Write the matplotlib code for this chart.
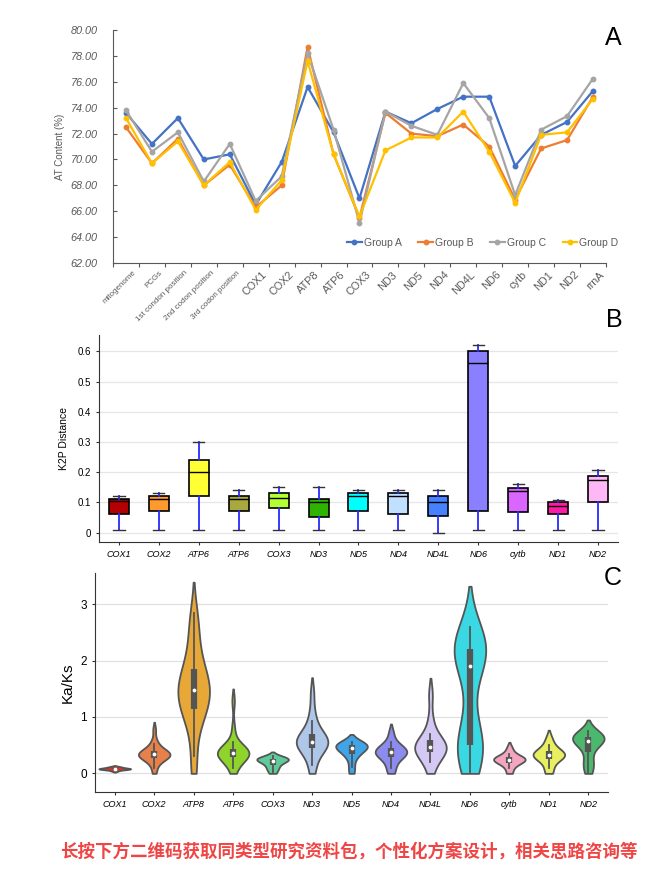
import numpy as np
import matplotlib

matplotlib.use("Agg")
import matplotlib.pyplot as plt

plt.rcParams["font.family"] = ["Liberation Sans", "DejaVu Sans"]

# ---------------- panel A: AT content ----------------
at_categories = [
    "mitogenome", "PCGs", "1st condon position", "2nd codon position",
    "3rd codon position", "COX1", "COX2", "ATP8", "ATP6", "COX3", "ND3",
    "ND5", "ND4", "ND4L", "ND6", "cytb", "ND1", "ND2", "rrnA",
]
group_a = [73.6, 71.2, 73.2, 70.0, 70.4, 66.5, 69.8, 75.6, 72.1, 67.0,
           73.7, 72.8, 73.9, 74.85, 74.85, 69.5, 71.9, 72.9, 75.3]
group_b = [72.5, 69.7, 71.6, 68.0, 69.6, 66.3, 68.0, 78.7, 70.4, 65.5,
           73.6, 72.0, 71.8, 72.7, 71.0, 66.9, 70.85, 71.5, 74.85]
group_c = [73.8, 70.6, 72.1, 68.3, 71.2, 66.8, 68.7, 78.2, 72.3, 65.1,
           73.7, 72.6, 71.9, 75.9, 73.2, 67.25, 72.3, 73.35, 76.25]
group_d = [73.2, 69.7, 71.4, 68.0, 69.8, 66.1, 68.4, 77.6, 70.4, 65.6,
           70.7, 71.7, 71.7, 73.7, 70.6, 66.65, 71.9, 72.1, 74.7]
group_names = ["Group A", "Group B", "Group C", "Group D"]
group_colors = ["#4472C4", "#ED7D31", "#A5A5A5", "#FFC000"]

# ---------------- panel B: K2P distance ----------------
k2p_genes = ["COX1", "COX2", "ATP6", "ATP6", "COX3", "ND3", "ND5", "ND4",
             "ND4L", "ND6", "cytb", "ND1", "ND2"]
k2p_low = [0.01, 0.01, 0.01, 0.01, 0.01, 0.01, 0.01, 0.01, 0.0, 0.01, 0.01, 0.01, 0.01]
k2p_q1 = [0.062, 0.07, 0.12, 0.072, 0.08, 0.05, 0.072, 0.06, 0.054, 0.072, 0.068, 0.06, 0.10]
k2p_med = [0.106, 0.11, 0.20, 0.11, 0.114, 0.10, 0.12, 0.12, 0.10, 0.561, 0.139, 0.089, 0.174]
k2p_q3 = [0.11, 0.12, 0.24, 0.12, 0.13, 0.11, 0.13, 0.13, 0.12, 0.60, 0.149, 0.10, 0.187]
k2p_high = [0.12, 0.13, 0.30, 0.14, 0.15, 0.15, 0.14, 0.14, 0.14, 0.62, 0.16, 0.109, 0.208]
k2p_colors = ["#B30000", "#FF9A2E", "#FFFF33", "#A8A83E", "#B3FF33", "#2DB300",
              "#00FFFF", "#C0E0FF", "#4682FF", "#8A80FF", "#D966FF", "#FF1AA6", "#FFB8F5"]

# ---------------- panel C: Ka/Ks ----------------
kaks_genes = ["COX1", "COX2", "ATP8", "ATP6", "COX3", "ND3", "ND5", "ND4",
              "ND4L", "ND6", "cytb", "ND1", "ND2"]
kaks_cox1 = [0.04, 0.06, 0.07, 0.07, 0.08, 0.08, 0.08, 0.09, 0.09, 0.10, 0.11, 0.12]
kaks_cox2 = [0.0, 0.1, 0.18, 0.22, 0.25, 0.27, 0.29, 0.3, 0.31, 0.32, 0.33, 0.34,
             0.35, 0.36, 0.37, 0.39, 0.41, 0.43, 0.47, 0.52, 0.6, 0.78]
kaks_atp8 = [0.0, 0.3, 0.75, 0.98, 1.07, 1.13, 1.2, 1.28, 1.35, 1.42, 1.47, 1.5,
             1.55, 1.62, 1.7, 1.8, 1.87, 2.0, 2.2, 2.45, 2.65, 2.85]
kaks_atp6 = [0.0, 0.1, 0.2, 0.25, 0.28, 0.3, 0.32, 0.34, 0.35, 0.36, 0.37,
             0.38, 0.4, 0.42, 0.44, 0.48, 0.55, 0.8, 1.28]
kaks_cox3 = [0.0, 0.06, 0.1, 0.14, 0.18, 0.21, 0.22, 0.24, 0.25, 0.26, 0.27, 0.28, 0.3]
kaks_nd3 = [0.0, 0.15, 0.3, 0.4, 0.45, 0.48, 0.5, 0.53, 0.55, 0.57, 0.6, 0.63,
            0.66, 0.7, 0.8, 0.92, 1.1, 1.43]
kaks_nd5 = [0.0, 0.12, 0.26, 0.33, 0.37, 0.41, 0.44, 0.46, 0.48, 0.5, 0.51, 0.52, 0.53, 0.55]
kaks_nd4 = [0.0, 0.1, 0.2, 0.28, 0.31, 0.34, 0.36, 0.38, 0.4, 0.42, 0.45, 0.5, 0.55, 0.72]
kaks_nd4l = [0.0, 0.2, 0.3, 0.36, 0.4, 0.43, 0.46, 0.47, 0.5, 0.55, 0.6, 0.7, 0.95, 1.4]
kaks_nd6 = [0.0, 0.15, 0.3, 0.4, 0.45, 0.5, 0.55, 0.62, 0.8, 1.3, 1.9, 1.95, 2.05, 2.1,
            2.15, 2.2, 2.25, 2.3, 2.35, 2.4, 2.6]
kaks_cytb = [0.0, 0.1, 0.17, 0.2, 0.22, 0.24, 0.25, 0.26, 0.28, 0.3, 0.35, 0.45]
kaks_nd1 = [0.0, 0.1, 0.22, 0.27, 0.3, 0.32, 0.33, 0.35, 0.38, 0.42, 0.5, 0.62]
kaks_nd2 = [0.0, 0.12, 0.17, 0.3, 0.45, 0.52, 0.56, 0.58, 0.6, 0.62, 0.63, 0.65,
            0.68, 0.72, 0.75]
kaks_colors = ["#D0392B", "#E8804A", "#E8A838", "#8FD42A", "#5ECC9A", "#AEC6E8",
               "#3DA5E8", "#8C8CF0", "#D4C8F4", "#3AD8E2", "#F4A6C0", "#E8F060", "#4CB86E"]

footer = "长按下方二维码获取同类型研究资料包，个性化方案设计，相关思路咨询等"


def kde_profile(vals, bw_adjust=0.9, cut=1.6):
    vals = np.asarray(vals, dtype=float)
    bw = bw_adjust * vals.std(ddof=1) * len(vals) ** (-0.2)
    lo = max(0.0, vals.min() - cut * bw)
    hi = vals.max() + cut * bw
    grid = np.linspace(lo, hi, 300)
    dens = np.exp(-0.5 * ((grid[:, None] - vals[None, :]) / bw) ** 2).sum(axis=1)
    return grid, dens / dens.max()


fig = plt.figure(figsize=(6.62, 8.73), dpi=100)

# ---- A ----
ax1 = fig.add_axes([0.1707, 0.6987, 0.7447, 0.2669])
x = np.arange(len(at_categories))
for vals, name, col in zip([group_a, group_b, group_c, group_d], group_names, group_colors):
    ax1.plot(x, vals, color=col, lw=1.6, marker="o", ms=3.2, label=name)
ax1.set_xlim(-0.5, len(at_categories) - 0.5)
ax1.set_ylim(62, 80)
ax1.set_yticks(np.arange(62, 81, 2))
ax1.set_yticklabels([f"{v:.2f}" for v in range(62, 81, 2)], fontsize=7.8,
                    color="#595959", style="italic")
ax1.tick_params(axis="y", length=3, direction="in", color="#595959", pad=11)
ax1.set_xticks(np.arange(-0.5, len(at_categories), 1.0))
ax1.set_xticklabels([])
ax1.tick_params(axis="x", length=3, color="#595959")
for i, lab in enumerate(at_categories):
    fs = 5.8 if i < 5 else 7.8
    ax1.text(i + 0.25, 61.5, lab, rotation=45, ha="right", va="top",
             rotation_mode="anchor", fontsize=fs, color="#595959")
for s in ["top", "right"]:
    ax1.spines[s].set_visible(False)
ax1.spines["left"].set_color("#595959")
ax1.spines["bottom"].set_color("#595959")
ax1.set_ylabel("AT Content (%)", fontsize=7, color="#595959", labelpad=4)
ax1.legend(loc="center", bbox_to_anchor=(0.75, 0.087), ncol=4, frameon=False,
           fontsize=7.5, handlelength=1.4, handletextpad=0.2, columnspacing=1.6,
           labelcolor="#595959")
fig.text(0.926, 0.956, "A", fontsize=18, ha="center", va="center")

# ---- B ----
ax2 = fig.add_axes([0.1495, 0.3792, 0.784, 0.2371])
stats = []
for g, lo, q1, med, q3, hi in zip(k2p_genes, k2p_low, k2p_q1, k2p_med, k2p_q3, k2p_high):
    stats.append(dict(label=g, whislo=lo, q1=q1, med=med, q3=q3, whishi=hi))
bp = ax2.bxp(stats, positions=np.arange(len(stats)), widths=0.5, patch_artist=True,
             showfliers=False,
             boxprops=dict(edgecolor="black", linewidth=1.2),
             whiskerprops=dict(color="#2a2aff", linewidth=1.3),
             capprops=dict(color="#333333", linewidth=1.0),
             medianprops=dict(color="black", linewidth=1.0))
for patch, col in zip(bp["boxes"], k2p_colors):
    patch.set_facecolor(col)
for cap in bp["caps"]:
    c = np.mean(cap.get_xdata())
    cap.set_xdata([c - 0.14, c + 0.14])
ax2.set_xlim(-0.5, 12.5)
ax2.set_ylim(-0.031, 0.654)
ax2.set_yticks(np.arange(0, 0.61, 0.1))
ax2.set_yticklabels(["0", "0.1", "0.2", "0.3", "0.4", "0.5", "0.6"], fontsize=7)
ax2.yaxis.grid(True, color="#e6e6e6", lw=0.9)
ax2.set_axisbelow(True)
ax2.set_xticks(np.arange(len(k2p_genes)))
ax2.set_xticklabels(k2p_genes, fontsize=6.5, style="italic")
ax2.tick_params(length=2.5, color="#333333")
for s in ["top", "right"]:
    ax2.spines[s].set_visible(False)
ax2.spines["left"].set_color("#333333")
ax2.spines["bottom"].set_color("#333333")
ax2.set_ylabel("K2P Distance", fontsize=7.5, labelpad=6)
fig.text(0.9275, 0.633, "B", fontsize=18, ha="center", va="center")

# ---- C ----
ax3 = fig.add_axes([0.1435, 0.0928, 0.775, 0.2508])
kaks_data = [kaks_cox1, kaks_cox2, kaks_atp8, kaks_atp6, kaks_cox3, kaks_nd3, kaks_nd5,
             kaks_nd4, kaks_nd4l, kaks_nd6, kaks_cytb, kaks_nd1, kaks_nd2]
half = 0.4
for i, (vals, col) in enumerate(zip(kaks_data, kaks_colors)):
    grid, dens = kde_profile(vals)
    ax3.fill_betweenx(grid, i - half * dens, i + half * dens, facecolor=col,
                      edgecolor="#555555", lw=1.3, zorder=2)
    v = np.asarray(vals)
    q1, med, q3 = np.percentile(v, [25, 50, 75])
    iqr = q3 - q1
    wlo = v[v >= q1 - 1.5 * iqr].min()
    whi = v[v <= q3 + 1.5 * iqr].max()
    ax3.plot([i, i], [wlo, whi], color="#555555", lw=1.3, zorder=3)
    ax3.plot([i, i], [q1, q3], color="#555555", lw=4.5, solid_capstyle="butt", zorder=3)
    ax3.scatter([i], [med], s=3, color="white", zorder=4)
ax3.set_xlim(-0.5, 12.5)
ax3.set_ylim(-0.33, 3.55)
ax3.set_yticks([0, 1, 2, 3])
ax3.set_yticklabels(["0", "1", "2", "3"], fontsize=8.5)
ax3.yaxis.grid(True, color="#e0e0e0", lw=0.9)
ax3.set_axisbelow(True)
ax3.set_xticks(np.arange(len(kaks_genes)))
ax3.set_xticklabels(kaks_genes, fontsize=6.5, style="italic")
ax3.tick_params(length=2.5, color="#333333")
for s in ["top", "right"]:
    ax3.spines[s].set_visible(False)
ax3.spines["left"].set_color("#333333")
ax3.spines["bottom"].set_color("#333333")
ax3.set_ylabel("Ka/Ks", fontsize=11, labelpad=4)
fig.text(0.926, 0.338, "C", fontsize=18, ha="center", va="center")

fig.text(0.527, 0.025, footer, fontsize=12.6, color="#F04545", fontweight="bold",
         ha="center", va="center", family=["Noto Sans CJK SC", "DejaVu Sans"])

fig.savefig("out.png", dpi=100)
